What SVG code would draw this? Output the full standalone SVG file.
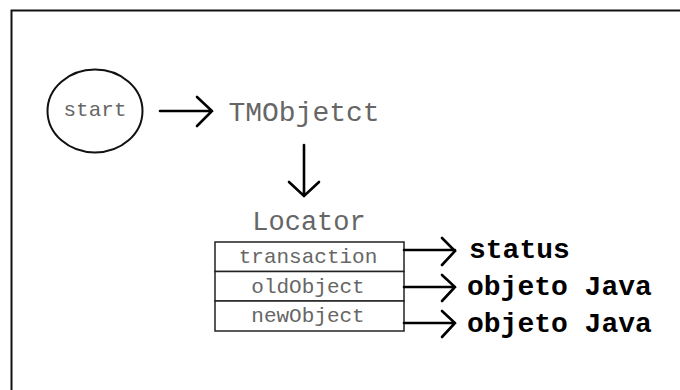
<svg xmlns="http://www.w3.org/2000/svg" width="680" height="390" viewBox="0 0 680 390">
  <defs>
    <style>
      .frame { fill: none; stroke: #111; stroke-width: 2; }
      .node { fill: none; stroke: #111; stroke-width: 2; }
      .cell { fill: #fff; stroke: #222; stroke-width: 1.5; }
      .edge { fill: none; stroke: #000; stroke-width: 2.6; stroke-linecap: round; stroke-linejoin: miter; }
      .lbl { font-family: "Liberation Mono", "Courier New", monospace; fill: #666; text-anchor: middle; }
      .out { font-family: "Liberation Mono", "Courier New", monospace; font-weight: bold; fill: #000; font-size: 28px; }
    </style>
  </defs>

  <rect width="680" height="390" fill="#fff"/>
  <!-- outer frame (open on the right and bottom) -->
  <path class="frame" d="M11.5 391 V10.5 H681"/>

  <g id="start">
    <ellipse class="node" cx="95" cy="111" rx="47.5" ry="41.5"/>
    <text class="lbl" x="95" y="116" font-size="21">start</text>
  </g>

  <g id="tmobject">
    <text class="lbl" x="304" y="121" font-size="28">TMObjetct</text>
  </g>

  <g id="locator">
    <text class="lbl" x="309" y="230" font-size="27">Locator</text>
    <rect class="cell" x="215" y="242" width="189" height="29.5"/>
    <rect class="cell" x="215" y="271.5" width="189" height="29.5"/>
    <rect class="cell" x="215" y="301" width="189" height="30"/>
    <text class="lbl" x="308" y="263" font-size="21">transaction</text>
    <text class="lbl" x="308" y="293" font-size="21">oldObject</text>
    <text class="lbl" x="308" y="322" font-size="21">newObject</text>
  </g>

  <g id="status">
    <text class="out" x="469" y="258">status</text>
  </g>
  <g id="oldvalue">
    <text class="out" x="467" y="295">objeto Java</text>
  </g>
  <g id="newvalue">
    <text class="out" x="467" y="332">objeto Java</text>
  </g>

  <g id="connectors">
    <path class="edge" d="M160 111 H212 M197 97 L212 111 L197 126"/>
    <path class="edge" d="M304 145 V196 M289 182 L304 196 L319 182"/>
    <path class="edge" d="M404 250 H455 M442 238 L455 251 L442 265"/>
    <path class="edge" d="M404 287 H455 M442 275 L455 287 L442 301"/>
    <path class="edge" d="M404 323 H455 M442 311 L455 323 L442 337"/>
  </g>
</svg>
